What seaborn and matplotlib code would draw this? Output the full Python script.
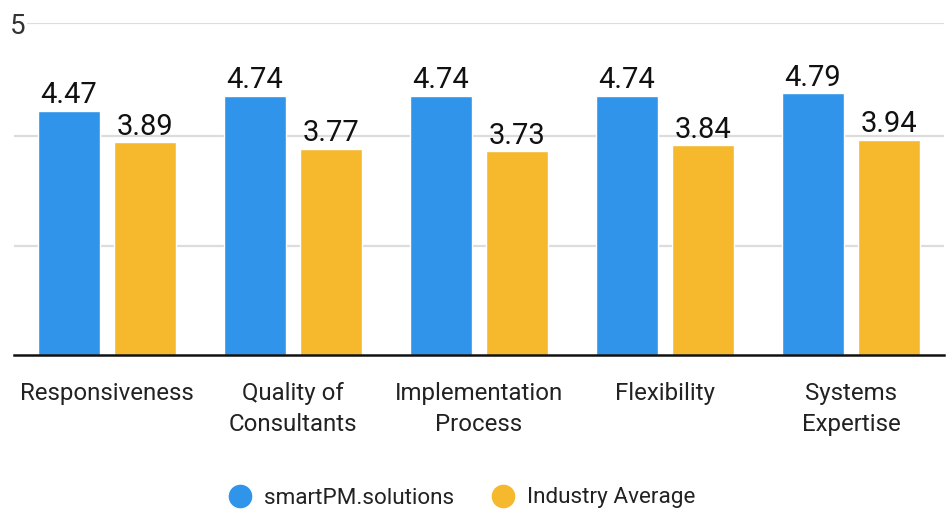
import matplotlib
matplotlib.use("Agg")
import matplotlib.pyplot as plt
import seaborn as sns
import pandas as pd

categories = ["Responsiveness", "Quality of\nConsultants", "Implementation\nProcess", "Flexibility", "Systems\nExpertise"]
smartpm = [4.47, 4.74, 4.74, 4.74, 4.79]
industry = [3.89, 3.77, 3.73, 3.84, 3.94]
series_names = ["smartPM.solutions", "Industry Average"]
colors = ["#3094EA", "#F6B92D"]

df = pd.DataFrame({
    "category": categories * 2,
    "value": smartpm + industry,
    "series": [series_names[0]] * len(categories) + [series_names[1]] * len(categories),
})

sns.set_theme(style="white")
plt.rcParams["font.family"] = ["Roboto", "DejaVu Sans"]

W, H = 951, 511
y0, y1 = 355.3, 23.5
fig = plt.figure(figsize=(W / 100, H / 100), dpi=100)
ax = fig.add_axes([14 / W, (H - y0) / H, (944 - 14) / W, (y0 - y1) / H])

sns.barplot(data=df, x="category", y="value", hue="series", palette=colors,
            width=0.82, gap=0.19, ax=ax, legend=False, saturation=1)

ytop = 6.06
ax.set_ylim(0, ytop)
ax.set_xlim(-0.5, len(categories) - 0.5)
ax.set_yticks([2, 4, ytop], labels=["", "", "5"])
ax.yaxis.grid(True, color="#DCDCDC", linewidth=1.6)
ax.set_axisbelow(True)
ax.tick_params(axis="y", length=0, pad=-8, labelsize=20, labelcolor="#333333")
for lbl in ax.get_yticklabels():
    lbl.set_bbox(dict(facecolor="white", edgecolor="none", pad=1))
ax.tick_params(axis="x", length=14, width=1.6, color="#111111", labelsize=17.3, pad=5, labelcolor="#222222")
for lbl in ax.get_xticklabels():
    lbl.set_linespacing(1.45)
ax.set_xlabel("")
ax.set_ylabel("")
for s in ["top", "right", "left"]:
    ax.spines[s].set_visible(False)
ax.spines["bottom"].set_color("#111111")
ax.spines["bottom"].set_linewidth(1.8)

for cont in ax.containers:
    ax.bar_label(cont, fmt="%.2f", padding=1, fontsize=21, color="#111111")

handles = [plt.Line2D([], [], marker="o", linestyle="", markersize=16, color=c) for c in colors]
fig.legend(handles, series_names, loc="center", bbox_to_anchor=(461 / W, 1 - 498 / H),
           ncol=2, frameon=False, fontsize=16.2, handletextpad=0.45, columnspacing=1.6,
           handlelength=1.2, labelcolor="#222222")

fig.savefig("out.png", dpi=100)
